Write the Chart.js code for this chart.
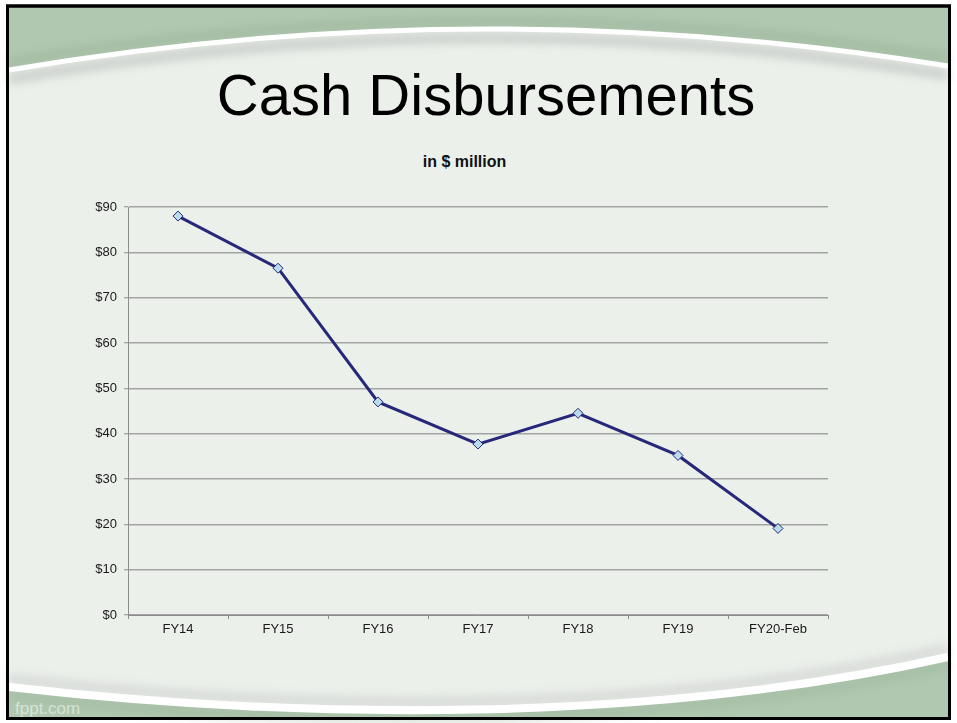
<!DOCTYPE html>
<html>
<head>
<meta charset="utf-8">
<title>Cash Disbursements</title>
<script src="https://cdn.jsdelivr.net/npm/chart.js@4.4.1/dist/chart.umd.min.js"></script>
<style>
  html, body { margin: 0; padding: 0; background: #fff; }
  #slide { position: relative; width: 957px; height: 723px; overflow: hidden; font-family: "Liberation Sans", Arial, sans-serif; }
  #bg { position: absolute; left: 0; top: 0; }
  #title { position: absolute; left: 0; width: 972px; top: 66px; text-align: center; font-size: 58px; line-height: 58px; color: #000; }
  #subtitle { position: absolute; left: 0; width: 929px; top: 154px; text-align: center; font-size: 16px; line-height: 16px; font-weight: bold; color: #111; }
  #brand { position: absolute; left: 15px; top: 699px; font-size: 17px; line-height: 20px; color: rgba(255,255,255,0.5); }
  #chartBox { position: absolute; left: 0; top: 0; width: 957px; height: 723px; }
</style>
</head>
<body>
<div id="slide">
  <svg id="bg" width="957" height="723" xmlns="http://www.w3.org/2000/svg">
    <defs>
      <filter id="soft" x="-5%" y="-50%" width="110%" height="200%">
        <feGaussianBlur stdDeviation="5"/>
      </filter>
    </defs>
    <rect x="0" y="0" width="957" height="723" fill="#fff"/>
    <rect x="7.5" y="6" width="942" height="712.5" fill="#b0c8af" stroke="#000" stroke-width="3"/>
    <!-- inner panel between the two curves -->
    <path d="M9 70 Q478 -10 948 66 L948 655 C650 722 300 718 9 686 Z" fill="#ecf0eb"/>
    <!-- shadows under / over the white swooshes -->
    <path d="M9 79 Q478 -1 948 75" fill="none" stroke="#bcc0bc" stroke-width="9" filter="url(#soft)" opacity="0.75"/>
    <path d="M9 679 C300 712 650 716 948 649" fill="none" stroke="#c9ccc9" stroke-width="10" filter="url(#soft)" opacity="0.6"/>
    <path d="M9 62 Q478 -18 948 58" fill="none" stroke="#98b198" stroke-width="8" filter="url(#soft)" opacity="0.6"/>
    <path d="M9 696 C300 728 650 732 948 665" fill="none" stroke="#98b198" stroke-width="8" filter="url(#soft)" opacity="0.5"/>
    <path d="M9 70 Q478 -10 948 66" fill="none" stroke="#fff" stroke-width="5"/>
    <path d="M9 687 C300 720 650 724 948 657" fill="none" stroke="#fff" stroke-width="8"/>
    <rect x="7.5" y="6" width="942" height="712.5" fill="none" stroke="#000" stroke-width="3"/>
  </svg>
  <div id="title">Cash Disbursements</div>
  <div id="subtitle">in $ million</div>
  <div id="brand">fppt.com</div>
  <div id="chartBox"><canvas id="cashChart" width="957" height="723"></canvas></div>
</div>
<script>
// chart data
const categories = ['FY14', 'FY15', 'FY16', 'FY17', 'FY18', 'FY19', 'FY20-Feb'];
const disbursements = [88.0, 76.5, 47.0, 37.7, 44.5, 35.2, 19.1];
const yTicks = [0, 10, 20, 30, 40, 50, 60, 70, 80, 90];

const navy = '#28287a';
const gridGray = '#a3a3a3';
const axisGray = '#8c8c8c';
const tickFont = { family: '"Liberation Sans", Arial, sans-serif', size: 13 };

const ctx = document.getElementById('cashChart').getContext('2d');
new Chart(ctx, {
  type: 'line',
  data: {
    labels: categories,
    datasets: [{
      label: 'Cash Disbursements',
      data: disbursements,
      borderColor: navy,
      borderWidth: 3,
      tension: 0,
      pointStyle: 'rectRot',
      pointRadius: 5,
      pointBackgroundColor: '#b8dcea',
      pointBorderColor: navy,
      pointBorderWidth: 1
    }]
  },
  options: {
    responsive: false,
    animation: false,
    layout: { padding: { top: 207, right: 129, bottom: 0, left: 0 } },
    plugins: {
      legend: { display: false },
      tooltip: { enabled: false }
    },
    scales: {
      x: {
        offset: true,
        grid: { offset: true, drawOnChartArea: false, drawTicks: true, tickLength: 4, color: axisGray },
        border: { display: true, color: axisGray, width: 1 },
        ticks: { color: '#1a1a1a', font: tickFont, padding: 3, maxRotation: 0 },
        afterFit: (scale) => { scale.height = 108; }
      },
      y: {
        min: yTicks[0],
        max: yTicks[yTicks.length - 1],
        afterBuildTicks: (scale) => { scale.ticks = yTicks.map((v) => ({ value: v })); },
        grid: { color: gridGray, lineWidth: 1.5, drawTicks: true, tickLength: 4, tickColor: axisGray, tickWidth: 1 },
        border: { display: true, color: axisGray, width: 1 },
        ticks: { color: '#1a1a1a', font: tickFont, padding: 7, callback: (v) => '$' + v },
        afterFit: (scale) => { scale.width = 128; }
      }
    }
  }
});
</script>
</body>
</html>
